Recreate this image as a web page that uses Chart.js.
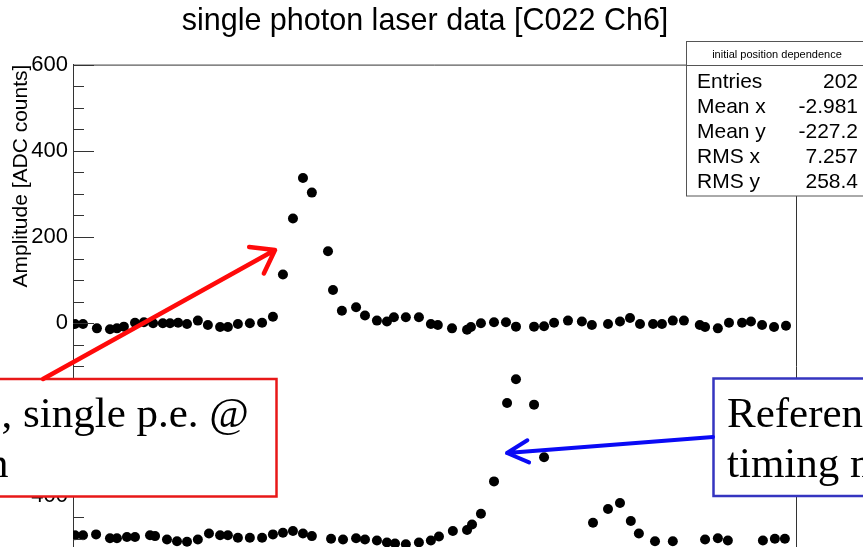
<!DOCTYPE html>
<html>
<head>
<meta charset="utf-8">
<script src="https://cdn.jsdelivr.net/npm/chart.js@4.4.1/dist/chart.umd.min.js"></script>
<style>
  html, body { margin: 0; padding: 0; background: #fff; overflow: hidden; }
  #wrap { position: relative; width: 863px; height: 720px; }
</style>
</head>
<body>
<div id="wrap"><canvas id="laserChart"></canvas></div>
<script>
// laser pulse (upper trace)
const topX = [-15.93, -15.64, -15.14, -14.67, -14.42, -14.17, -13.77, -13.45, -13.12, -12.77,
  -12.51, -12.22, -11.90, -11.51, -11.15, -10.71, -10.43, -10.07, -9.64, -9.20,
  -8.81, -8.45, -8.09, -7.73, -7.41, -6.83, -6.65, -6.33, -5.82, -5.50,
  -5.07, -4.71, -4.46, -4.03, -3.56, -3.13, -2.88, -2.37, -1.83, -1.69,
  -1.33, -0.86, -0.43, -0.07, 0.58, 0.94, 1.30, 1.80, 2.30, 2.66,
  3.24, 3.67, 4.03, 4.39, 4.86, 5.18, 5.57, 5.97, 6.54, 6.73,
  7.19, 7.59, 8.06, 8.38, 8.78, 9.21, 9.64];
const topY = [-2, -2, -12, -14, -12, -8, 1, 2, 0, 0,
  0, 1, -2, 6, -4, -9, -9, -2, 0, 1,
  15, 113, 243, 337, 303, 167, 77, 29, 37, 18,
  6, 4, 14, 14, 14, -2, -4, -12, -15, -9,
  0, 2, 2, -8, -8, -7, 1, 6, 4, -4,
  -2, 4, 12, -2, -2, -2, 6, 6, -4, -9,
  -12, 1, 1, 4, -4, -9, -6];

// reference timing trace (lower)
const bottomX = [-15.93, -15.64, -15.17, -14.67, -14.42, -14.06, -13.77, -13.23, -13.05, -12.62,
  -12.26, -11.90, -11.51, -11.11, -10.71, -10.43, -10.07, -9.64, -9.20, -8.81,
  -8.45, -8.09, -7.73, -7.41, -6.72, -6.29, -5.82, -5.50, -5.07, -4.71,
  -4.42, -4.03, -3.56, -3.13, -2.84, -2.34, -1.83, -1.65, -1.33, -0.86,
  -0.39, -0.07, 0.58, 0.94, 1.30, 1.76, 2.23, 2.70, 3.24, 3.67,
  4.06, 4.35, 4.93, 5.57, 6.73, 7.19, 7.55, 8.81, 9.24, 9.60];
const bottomY = [-492, -492, -490, -499, -499, -496, -496, -492, -494, -502,
  -506, -507, -502, -488, -492, -492, -498, -498, -498, -490,
  -486, -482, -488, -494, -500, -502, -499, -502, -504, -509,
  -511, -513, -509, -504, -495, -482, -480, -467, -442, -367,
  -185, -130, -189, -311, -560, -600, -540, -463, -431, -417,
  -459, -488, -506, -506, -502, -499, -504, -504, -500, -500];

const yTicks = [600, 400, 200, 0, -200, -400, -600, -800];
const statLabels = ['Entries', 'Mean x', 'Mean y', 'RMS x', 'RMS y'];
const statValues = ['202', '-2.981', '-227.2', '7.257', '258.4'];
const statTitle = 'initial position dependence';
const redNote = [', single p.e. @', 'n'];
const blueNote = ['Reference', 'timing m'];

const sans = '"Liberation Sans", Arial, sans-serif';

function toPoints(xs, ys) {
  return xs.map((x, i) => ({ x: x, y: ys[i] }));
}

function arrow(ctx, x1, y1, x2, y2, color, width, head, spread) {
  const ang = Math.atan2(y1 - y2, x1 - x2);
  ctx.strokeStyle = color;
  ctx.lineWidth = width;
  ctx.lineCap = 'round';
  ctx.lineJoin = 'round';
  ctx.beginPath();
  ctx.moveTo(x1, y1);
  ctx.lineTo(x2, y2);
  ctx.moveTo(x2 + head * Math.cos(ang + spread), y2 + head * Math.sin(ang + spread));
  ctx.lineTo(x2, y2);
  ctx.lineTo(x2 + head * Math.cos(ang - spread), y2 + head * Math.sin(ang - spread));
  ctx.stroke();
}

function noteBox(ctx, x, y, w, h, color, lines, textX, firstBase) {
  ctx.fillStyle = '#fff';
  ctx.fillRect(x, y, w, h);
  ctx.strokeStyle = color;
  ctx.lineWidth = 2.5;
  ctx.strokeRect(x, y, w, h);
  ctx.fillStyle = '#000';
  ctx.font = '43px "Liberation Serif", "Times New Roman", serif';
  ctx.textAlign = 'left';
  ctx.textBaseline = 'alphabetic';
  lines.forEach((t, i) => {
    const tx = typeof textX === 'function' ? textX(ctx, t, i) : textX;
    ctx.fillText(t, tx, firstBase + i * 50);
  });
}

const rootDecor = {
  id: 'rootDecor',
  afterDraw(chart) {
    const ctx = chart.ctx;
    const a = chart.chartArea;
    const ys = chart.scales.y;
    ctx.save();

    // frame and inner ticks, ROOT style
    ctx.strokeStyle = '#333';
    ctx.lineWidth = 1;
    ctx.beginPath();
    ctx.moveTo(a.left, a.top + 0.5);
    ctx.lineTo(a.right + 0.5, a.top + 0.5);
    ctx.lineTo(a.right + 0.5, a.bottom);
    ctx.stroke();
    for (let v = ys.min; v <= ys.max; v += 50) {
      const py = Math.round(ys.getPixelForValue(v)) + 0.5;
      const len = v % 200 === 0 ? 21 : 11;
      ctx.beginPath();
      ctx.moveTo(a.left, py);
      ctx.lineTo(a.left + len, py);
      ctx.stroke();
    }

    // stats box
    ctx.fillStyle = '#fff';
    ctx.fillRect(686.5, 41.5, 200, 154.5);
    ctx.strokeStyle = '#555';
    ctx.strokeRect(686.5, 41.5, 200, 154.5);
    ctx.beginPath();
    ctx.moveTo(686.5, 65.5);
    ctx.lineTo(863, 65.5);
    ctx.stroke();
    ctx.fillStyle = '#000';
    ctx.textBaseline = 'alphabetic';
    ctx.font = '11px ' + sans;
    ctx.textAlign = 'center';
    ctx.fillText(statTitle, 777, 58);
    ctx.font = '21px ' + sans;
    statLabels.forEach((lab, i) => {
      const by = 88 + i * 25;
      ctx.textAlign = 'left';
      ctx.fillText(lab, 697, by);
      ctx.textAlign = 'right';
      ctx.fillText(statValues[i], 858, by);
    });

    // annotation boxes and arrows
    noteBox(ctx, -10, 379, 286.5, 117.5, '#e81818', redNote,
      (c, t, i) => i === 0 ? 23 - c.measureText(', ').width : -13, 427);
    noteBox(ctx, 713.5, 378.5, 200, 117.5, '#3535c0', blueNote, 727, 427);
    arrow(ctx, 43, 379, 275, 250, '#ff0a0a', 4.5, 26, 0.62);
    arrow(ctx, 713, 437, 507, 453, '#0a0af5', 4, 24, 0.48);

    ctx.restore();
  }
};

const ctx = document.getElementById('laserChart').getContext('2d');
const laserChart = new Chart(ctx, {
  type: 'scatter',
  data: {
    datasets: [
      { label: 'laser', data: toPoints(topX, topY), backgroundColor: '#000', borderWidth: 0, pointRadius: 5 },
      { label: 'reference', data: toPoints(bottomX, bottomY), backgroundColor: '#000', borderWidth: 0, pointRadius: 5 }
    ]
  },
  options: {
    responsive: true,
    maintainAspectRatio: false,
    animation: false,
    layout: { padding: { top: 0, right: 13, bottom: 52, left: 0 } },
    plugins: {
      legend: { display: false },
      tooltip: { enabled: false },
      title: {
        display: true,
        text: 'single photon laser data [C022 Ch6]',
        color: '#000',
        font: { family: sans, size: 30.5, weight: 'normal' },
        padding: { top: 3, bottom: 25 }
      }
    },
    scales: {
      x: { type: 'linear', min: -16, max: 10, display: false },
      y: {
        min: -800,
        max: 600,
        afterBuildTicks: s => { s.ticks = yTicks.map(v => ({ value: v })); },
        afterFit: s => { s.width = 73; },
        grid: { display: false, drawTicks: false },
        border: { display: true, color: '#333', width: 1 },
        ticks: {
          color: '#000',
          padding: 5,
          font: { family: sans, size: 22 }
        },
        title: {
          display: true,
          text: 'Amplitude [ADC counts]',
          align: 'end',
          color: '#000',
          font: { family: sans, size: 21 },
          padding: { top: 9, bottom: 0 }
        }
      },
      // empty right-hand strip so the frame ends where the original one does
      y2: {
        position: 'right',
        min: -800,
        max: 600,
        afterFit: s => { s.width = 54; },
        grid: { display: false, drawTicks: false },
        border: { display: false },
        ticks: { display: false }
      }
    }
  },
  plugins: [rootDecor]
});
</script>
</body>
</html>
